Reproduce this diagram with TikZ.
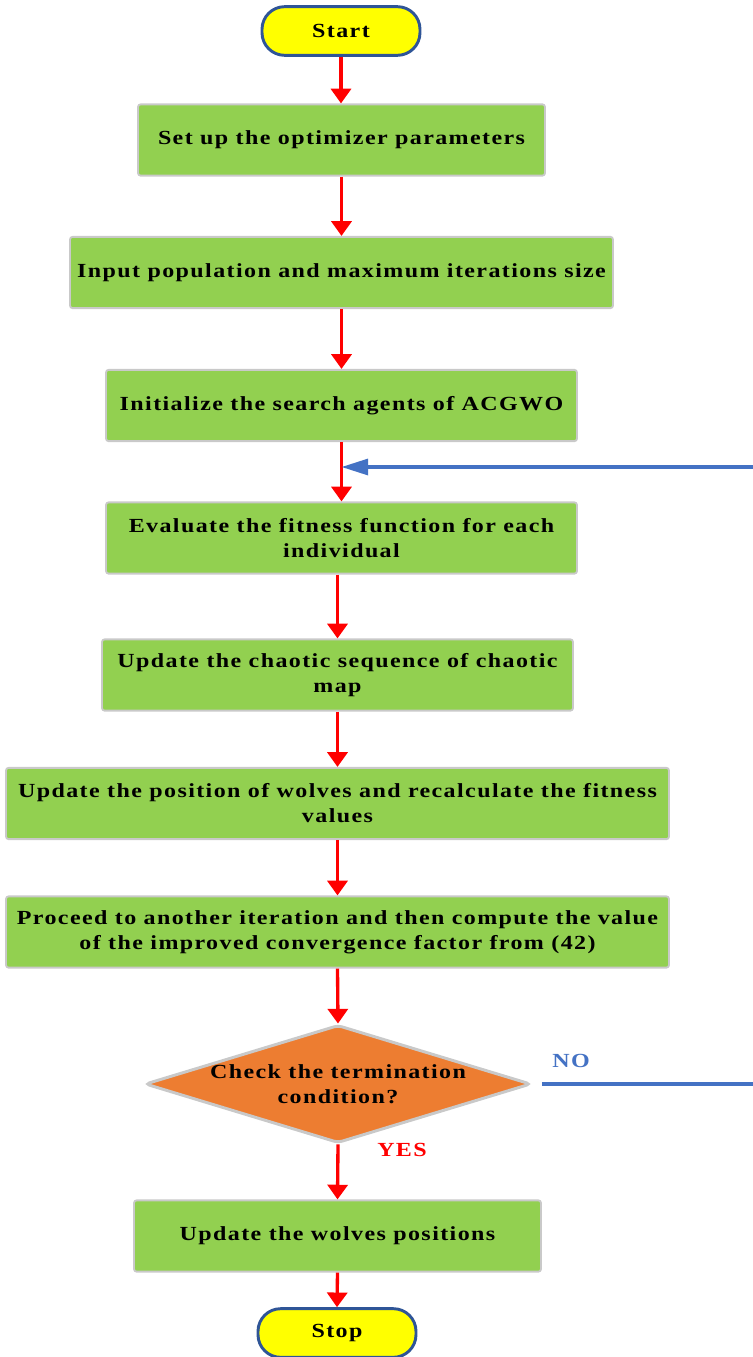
\documentclass[tikz,border=0pt]{standalone}
\usepackage{fontspec}
\setmainfont{Liberation Serif}[FakeStretch=1.2, LetterSpace=7]
\usetikzlibrary{arrows.meta,shapes.geometric}

\definecolor{boxgreen}{HTML}{92D050}
\definecolor{termyellow}{HTML}{FFFF00}
\definecolor{termblue}{HTML}{2F5597}
\definecolor{decorange}{HTML}{ED7D31}
\definecolor{loopblue}{HTML}{4472C4}
\definecolor{flowred}{HTML}{FF0000}
\definecolor{edgegray}{HTML}{C9C9C9}

\tikzset{
  every node/.style={font=\bfseries\fontsize{15pt}{18.75pt}\selectfont, align=center, text=black},
  terminal/.style={draw=termblue, line width=2.2pt, fill=termyellow,
    rounded corners=17pt, minimum width=118.5pt, minimum height=36.5pt, inner sep=0pt},
  procbox/.style={draw=edgegray, line width=1.4pt, fill=boxgreen,
    rounded corners=2pt, minimum height=53.5pt, inner sep=0pt},
  decision/.style={diamond, draw=edgegray, line width=2.2pt, fill=decorange,
    rounded corners=3pt, minimum width=289.5pt, minimum height=88.5pt, inner sep=0pt},
  flow/.style={draw=flowred, line width=2.5pt,
    -{Triangle[length=11pt,width=15pt]}},
  loopback/.style={draw=loopblue, line width=2.5pt,
    -{Triangle[length=20pt,width=12pt]}},
}

\begin{document}
\begin{tikzpicture}[x=0.75pt,y=-0.75pt]
  \useasboundingbox (0,0) rectangle (753,1357);

  % terminals, process boxes and decision
  \node[terminal] (start) at (341,31) {Start};
  \node[procbox, minimum width=305.25pt] (b1) at (341.5,140) {Set up the optimizer parameters};
  \node[procbox, minimum width=407.25pt] (b2) at (341.5,272.5) {Input population and maximum iterations size};
  \node[procbox, minimum width=353.25pt] (b3) at (341.5,405.5) {Initialize the search agents of ACGWO};
  \node[procbox, minimum width=353.25pt] (b4) at (341.5,538) {Evaluate the fitness function for each\\individual};
  \node[procbox, minimum width=353.25pt] (b5) at (337.5,675) {Update the chaotic sequence of chaotic\\map};
  \node[procbox, minimum width=497.25pt] (b6) at (337.5,803.5) {Update the position of wolves and recalculate the fitness\\values};
  \node[procbox, minimum width=497.25pt] (b7) at (337.5,932) {Proceed to another iteration and then compute the value\\of the improved convergence factor from (42)};
  \node[decision] (dec) at (338,1084) {};
  \node (dectext) at (338,1084) {Check the termination\\condition?};
  \node[procbox, minimum width=305.25pt] (b8) at (337.5,1236) {Update the wolves positions};
  \node[terminal] (stop) at (337,1333) {Stop};

  % branch labels
  \node[text=loopblue] (nolbl) at (571,1061) {NO};
  \node[text=flowred] (yeslbl) at (402,1150) {YES};

  % main flow
  \draw[flow] (start.south) -- (b1.north -| start.south);
  \draw[flow] (b1.south) -- (b2.north);
  \draw[flow] (b2.south) -- (b3.north);
  \draw[flow] (b3.south) -- (b4.north);
  \draw[flow] (b5.north |- b4.south) -- (b5.north);
  \draw[flow] (b5.south) -- (b6.north);
  \draw[flow] (b6.south) -- (b7.north);
  \draw[flow] (b7.south) -- (dec.north);
  \draw[flow] (dec.south) -- (b8.north);
  \draw[flow] (b8.south) -- (stop.north);

  % loop back to the fitness evaluation
  \coordinate (join) at (341.5,467);
  \draw[loopback, shorten <=7pt] (dec.east) -- (775,1084) |- (join);
\end{tikzpicture}
\end{document}
